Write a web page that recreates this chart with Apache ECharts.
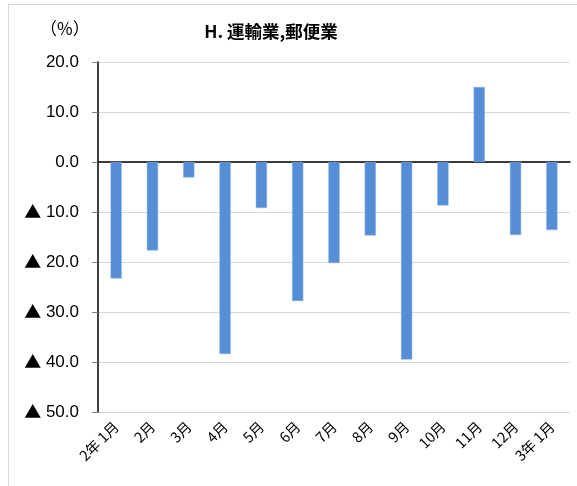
<!DOCTYPE html>
<html>
<head>
<meta charset="utf-8">
<script src="https://cdn.jsdelivr.net/npm/echarts@6/dist/echarts.min.js"></script>
<style>
  html, body { margin: 0; padding: 0; background: #fff; }
  #frame { position: absolute; left: 8px; top: 4px; width: 620px; height: 520px; border: 1px solid #d9d9d9; }
  #chart { position: absolute; left: 0; top: 0; width: 577px; height: 486px; }
</style>
</head>
<body>
<div id="frame"></div>
<div id="chart"></div>
<script>
// 月別の前年同月比（%）
const months = ['2年 1月', '2月', '3月', '4月', '5月', '6月', '7月', '8月', '9月', '10月', '11月', '12月', '3年 1月']
const values = [-23.3, -17.7, -3.1, -38.4, -9.2, -27.8, -20.2, -14.7, -39.5, -8.7, 15.0, -14.6, -13.6]
const yTicks = [20, 10, 0, -10, -20, -30, -40, -50]

const font = '"Liberation Sans", "Noto Sans CJK JP", sans-serif'
const mychart = echarts.init(document.getElementById('chart'))

mychart.setOption({
  animation: false,
  title: {
    text: 'H. 運輸業,郵便業',
    left: 266,
    textAlign: 'center',
    top: 18,
    textStyle: { fontSize: 17.5, fontWeight: 'bold', color: '#000', fontFamily: '"Noto Sans CJK JP", sans-serif' },
  },
  graphic: [
    {
      type: 'text',
      left: 40,
      top: 20,
      style: { text: '（%）', fill: '#000', font: '17px "Noto Sans CJK JP", sans-serif' },
    },
  ],
  grid: { left: 98, right: 7, top: 62, bottom: 74 },
  xAxis: [
    {
      type: 'category',
      data: months,
      axisLine: { onZero: true, lineStyle: { color: '#000', width: 1.5 } },
      axisTick: { inside: true, length: 5, lineStyle: { color: '#000' } },
      axisLabel: { show: false },
    },
    {
      type: 'category',
      data: months,
      position: 'bottom',
      axisLine: { show: false, onZero: false },
      axisTick: { show: false },
      axisLabel: {
        rotate: 45,
        margin: 12,
        fontSize: 14.5,
        color: '#000',
        fontFamily: '"Noto Sans CJK JP", sans-serif',
      },
    },
  ],
  yAxis: {
    type: 'value',
    min: -50,
    max: 20,
    interval: 10,
    axisLine: { show: true, lineStyle: { color: '#000', width: 1.5 } },
    axisTick: { show: true, length: 6, lineStyle: { color: '#808080' } },
    splitLine: { lineStyle: { color: '#d9d9d9' } },
    axisLabel: {
      margin: 19,
      fontSize: 17,
      color: '#000',
      fontFamily: font,
      formatter: function (v) {
        if (yTicks.indexOf(v) < 0) return ''
        return v < 0 ? '{tri|▲} ' + (-v).toFixed(1) : v.toFixed(1)
      },
      rich: {
        tri: { fontSize: 17, fontFamily: '"Noto Sans CJK JP", sans-serif', color: '#000' },
      },
    },
  },
  series: [
    {
      type: 'bar',
      xAxisIndex: 0,
      barWidth: '31%',
      data: values,
      itemStyle: { color: '#558ed5', borderColor: '#8fb4e3', borderWidth: 0.5 },
    },
  ],
})
</script>
</body>
</html>
